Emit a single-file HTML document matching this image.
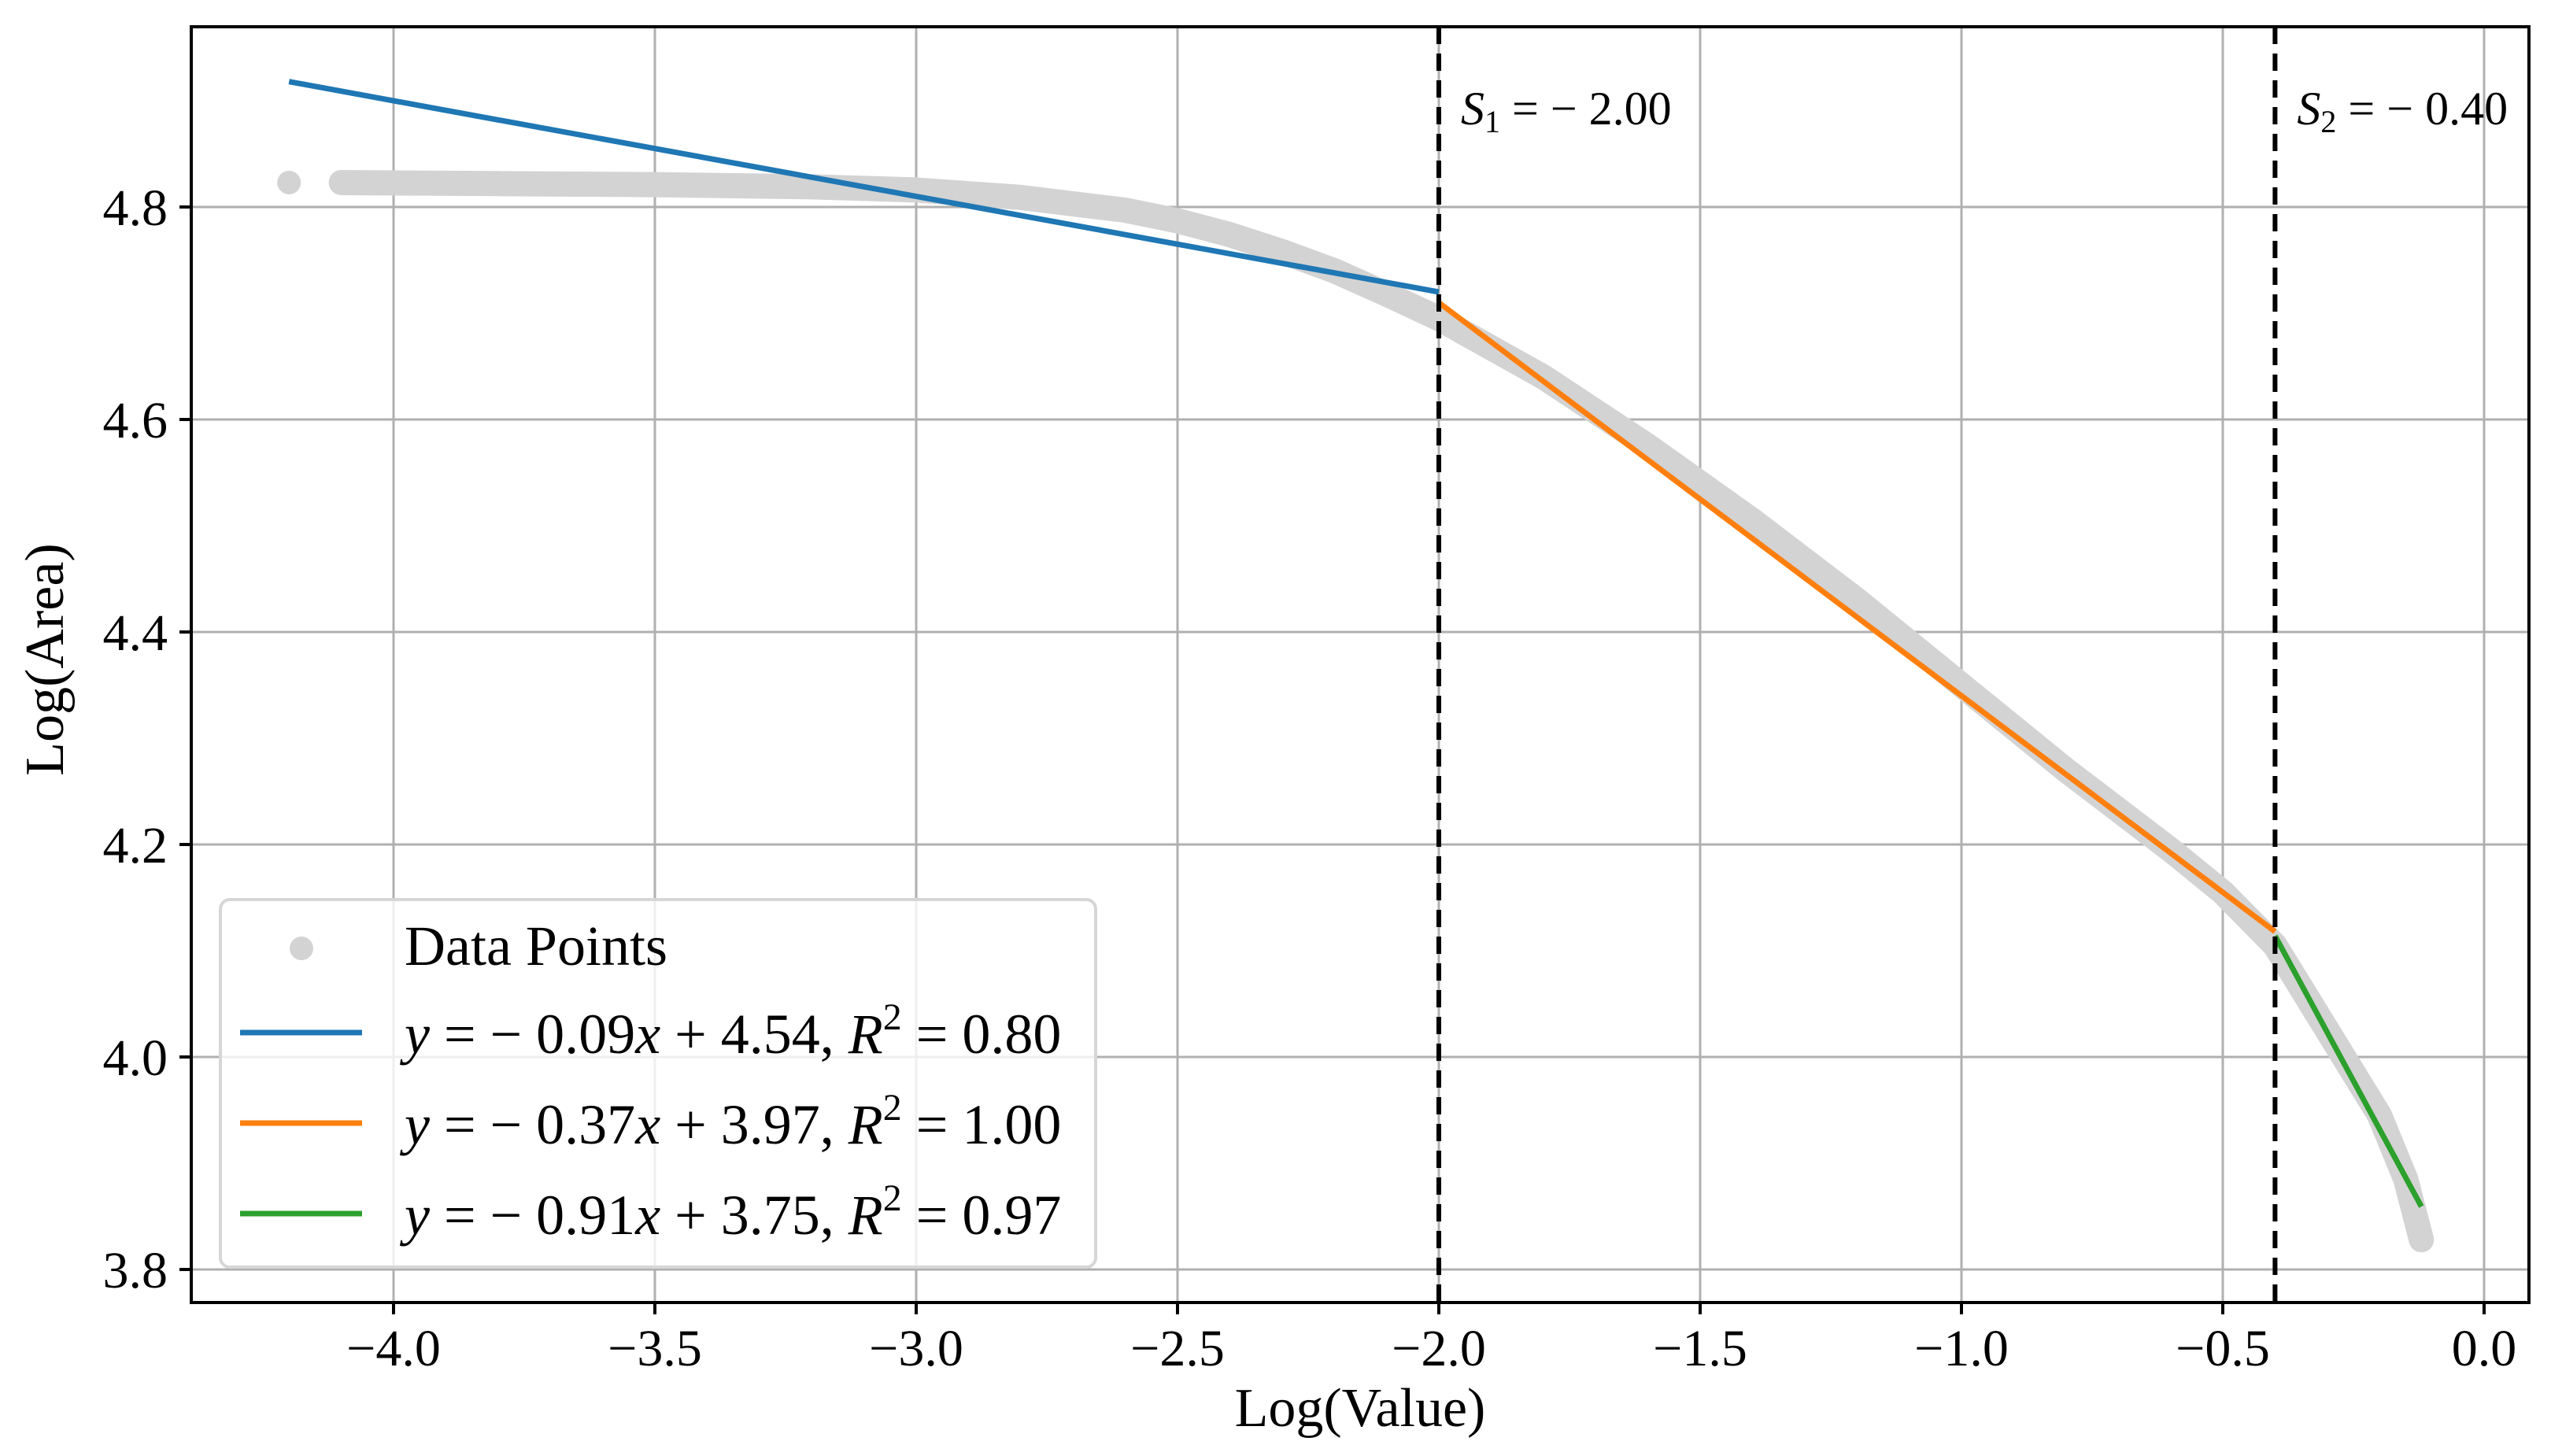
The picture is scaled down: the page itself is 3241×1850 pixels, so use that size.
<!DOCTYPE html>
<html><head><meta charset="utf-8"><style>
html,body{margin:0;padding:0;background:#fff;}
svg{display:block;font-family:"Liberation Serif",serif;}
</style></head><body>
<svg id="chart" width="3241" height="1850" viewBox="0 0 3241 1850">
<rect x="0" y="0" width="3241" height="1850" fill="#fff"/>
<g id="grid"></g>
<g id="data"></g>
<g id="fits"></g>
<g id="splits"></g>
<g id="axes"></g>
<text x="1728" y="1812" font-size="70" text-anchor="middle">Log(Value)</text>
<text transform="translate(80,838) rotate(-90)" font-size="70" text-anchor="middle">Log(Area)</text>
<g>
<rect x="280" y="1143" width="1112" height="467" rx="12" fill="#fff" fill-opacity="0.8" stroke="#d6d6d6" stroke-width="4"/>
<circle cx="383" cy="1205" r="15" fill="#d3d3d3"/>
<text x="514" y="1226" font-size="72">Data Points</text>
<line x1="305" y1="1312" x2="460" y2="1312" stroke="#1f77b4" stroke-width="7"/>
<text x="514" y="1338" font-size="72"><tspan font-style="italic">y</tspan> = − 0.09<tspan font-style="italic">x</tspan> + 4.54, <tspan font-style="italic">R</tspan><tspan font-size="48" dy="-30">2</tspan><tspan dy="30"> = 0.80</tspan></text>
<line x1="305" y1="1427" x2="460" y2="1427" stroke="#ff7f0e" stroke-width="7"/>
<text x="514" y="1453" font-size="72"><tspan font-style="italic">y</tspan> = − 0.37<tspan font-style="italic">x</tspan> + 3.97, <tspan font-style="italic">R</tspan><tspan font-size="48" dy="-30">2</tspan><tspan dy="30"> = 1.00</tspan></text>
<line x1="305" y1="1542" x2="460" y2="1542" stroke="#2ca02c" stroke-width="7"/>
<text x="514" y="1568" font-size="72"><tspan font-style="italic">y</tspan> = − 0.91<tspan font-style="italic">x</tspan> + 3.75, <tspan font-style="italic">R</tspan><tspan font-size="48" dy="-30">2</tspan><tspan dy="30"> = 0.97</tspan></text>
</g>
</svg>
<script>
const xTicks = [-4.0, -3.5, -3.0, -2.5, -2.0, -1.5, -1.0, -0.5, 0.0];
const xTickLabels = ["−4.0","−3.5","−3.0","−2.5","−2.0","−1.5","−1.0","−0.5","0.0"];
const yTicks = [3.8, 4.0, 4.2, 4.4, 4.6, 4.8];
const yTickLabels = ["3.8","4.0","4.2","4.4","4.6","4.8"];
const dataX = [-4.2, -4.1, -3.8, -3.5, -3.2, -3.0, -2.8, -2.6, -2.5, -2.4, -2.3, -2.2, -2.1, -2.0, -1.8, -1.6, -1.4, -1.2, -1.0, -0.8, -0.6, -0.5, -0.4, -0.3, -0.2, -0.15, -0.12];
const dataY = [4.823, 4.823, 4.822, 4.821, 4.819, 4.816, 4.809, 4.797, 4.787, 4.774, 4.758, 4.74, 4.718, 4.695, 4.64, 4.575, 4.505, 4.43, 4.35, 4.27, 4.195, 4.155, 4.105, 4.025, 3.945, 3.885, 3.828];
const fitSlopes = [-0.09, -0.37, -0.91];
const fitIntercepts = [4.54, 3.97, 3.75];
const fitStarts = [-4.2, -2.0, -0.4];
const fitEnds = [-2.0, -0.4, -0.12];
const splitValues = [-2.0, -0.4];
const splitLabels = ["1|−2.00", "2|−0.40"];

const L=243, R=3213, T=34, B=1655;
const X = v => 3156 + 664*v;
const Y = v => 1613 - (v-3.8)*1350;
const NS='http://www.w3.org/2000/svg';
function mk(tag, parent, attrs){const e=document.createElementNS(NS,tag);for(const k in attrs)e.setAttribute(k,attrs[k]);parent.appendChild(e);return e;}
const grid=document.getElementById('grid'), axes=document.getElementById('axes');
xTicks.forEach((t,i)=>{
  const g=mk('line',grid,{x1:X(t),x2:X(t),y1:T,y2:B,stroke:'#b0b0b0','stroke-width':3});
  
  
  const tk=mk('line',axes,{x1:X(t),x2:X(t),y1:B,y2:B+15,stroke:'#000','stroke-width':4});
  
  
  const tx=mk('text',axes,{x:X(t),y:B+80,'font-size':66,'text-anchor':'middle'});
  tx.textContent=xTickLabels[i];
  
  
});
yTicks.forEach((t,i)=>{
  const g=mk('line',grid,{x1:L,x2:R,y1:Y(t),y2:Y(t),stroke:'#b0b0b0','stroke-width':3});
  
  
  const tk=mk('line',axes,{x1:L-15,x2:L,y1:Y(t),y2:Y(t),stroke:'#000','stroke-width':4});
  
  
  const tx=mk('text',axes,{x:L-30,y:Y(t)+23,'font-size':66,'text-anchor':'end'});
  tx.textContent=yTickLabels[i];
  
  
});
const frame=mk('rect',axes,{x:L,y:T,width:R-L,height:B-T,fill:'none',stroke:'#000','stroke-width':4});



const dg=document.getElementById('data');
const pts=dataX.map((x,i)=>X(x)+','+Y(dataY[i])).slice(1).join(' ');
const band=mk('polyline',dg,{points:pts,fill:'none',stroke:'#d3d3d3','stroke-width':32,'stroke-linecap':'round','stroke-linejoin':'round'});


const dot=mk('circle',dg,{cx:X(dataX[0]),cy:Y(dataY[0]),r:15,fill:'#d3d3d3'});



const colors=['#1f77b4','#ff7f0e','#2ca02c'];
const fg=document.getElementById('fits');
fitSlopes.forEach((m,i)=>{
  const x1=fitStarts[i], x2=fitEnds[i];
  const ln=mk('line',fg,{x1:X(x1),y1:Y(m*x1+fitIntercepts[i]),x2:X(x2),y2:Y(m*x2+fitIntercepts[i]),stroke:colors[i],'stroke-width':7});
  
  
});
const sg=document.getElementById('splits');
splitValues.forEach((s,i)=>{
  const ln=mk('line',sg,{x1:X(s),x2:X(s),y1:T,y2:B,stroke:'#000','stroke-width':6,'stroke-dasharray':'22,12'});
  
  
  const parts=splitLabels[i].split('|');
  const tx=mk('text',sg,{x:X(s)+28,y:158,'font-size':60});
  tx.innerHTML='<tspan font-style="italic">S</tspan><tspan font-size="40" dy="10">'+parts[0]+'</tspan><tspan dy="-10"> = − '+parts[1].slice(1)+'</tspan>';
  
  
});
</script>
</body></html>
